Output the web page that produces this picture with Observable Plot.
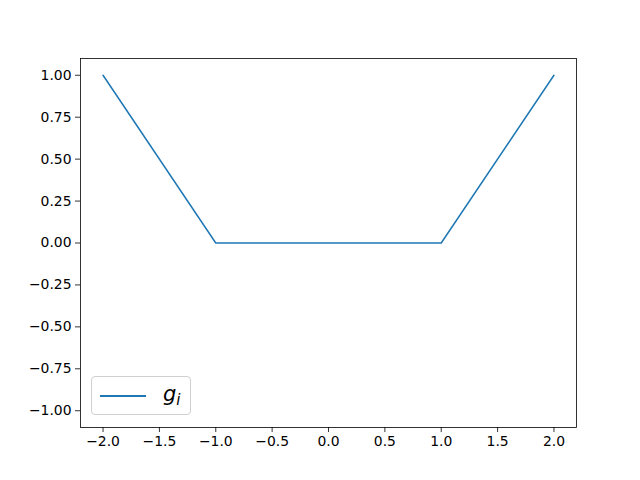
<!DOCTYPE html>
<html><head><meta charset="utf-8">
<script src="https://cdn.jsdelivr.net/npm/d3@7"></script>
<script src="https://cdn.jsdelivr.net/npm/@observablehq/plot@0.6"></script>
<style>
body{margin:0;background:#fff;}
#wrap{position:relative;width:640px;height:480px;}
#legend{position:absolute;left:91px;top:376px;width:100px;height:39px;border:1px solid #d0d0d0;border-radius:4px;background:rgba(255,255,255,0.8);box-sizing:border-box;}
#legend .ln{position:absolute;left:8px;top:18px;width:46px;height:2px;background:#1f77b4;}
#legend .lb{position:absolute;left:71px;top:4px;font-family:"DejaVu Sans",sans-serif;font-style:italic;font-size:21px;color:#000;line-height:26px;}
#legend .lb sub{font-size:15px;vertical-align:-4px;}
</style>
</head><body>
<div id="wrap"></div>
<script>
const xs = [-2, -1, 1, 2];
const ys = [1, 0, 0, 1];
const xTicks = [-2.0, -1.5, -1.0, -0.5, 0.0, 0.5, 1.0, 1.5, 2.0];
const yTicks = [-1.0, -0.75, -0.5, -0.25, 0.0, 0.25, 0.5, 0.75, 1.0];
const data = xs.map((x, i) => ({x, y: ys[i]}));

const chart = Plot.plot({
  width: 640, height: 480,
  marginLeft: 80, marginRight: 64, marginTop: 58, marginBottom: 53,
  style: {fontFamily: "DejaVu Sans", fontSize: "13.9px", color: "#000", background: "#fff"},
  x: {domain: [-2.2, 2.2], label: null},
  y: {domain: [-1.1, 1.1], label: null},
  marks: [
    Plot.line(data, {x: "x", y: "y", stroke: "#1f77b4", strokeWidth: 1.5}),
    Plot.axisX({ticks: xTicks, tickFormat: d => d.toFixed(1).replace("-", "\u2212"), tickSize: 5, tickPadding: 4, stroke: "#000", strokeWidth: 0.8}),
    Plot.axisY({ticks: yTicks, tickFormat: d => d.toFixed(2).replace("-", "\u2212"), tickSize: 5, tickPadding: 4, stroke: "#000", strokeWidth: 0.8}),
    Plot.frame({stroke: "#000", strokeWidth: 0.8})
  ]
});
const wrap = document.getElementById("wrap");
wrap.appendChild(chart);
const lg = document.createElement("div");
lg.id = "legend";
lg.innerHTML = '<div class="ln"></div><div class="lb">g<sub>i</sub></div>';
wrap.appendChild(lg);
</script>
</body></html>
